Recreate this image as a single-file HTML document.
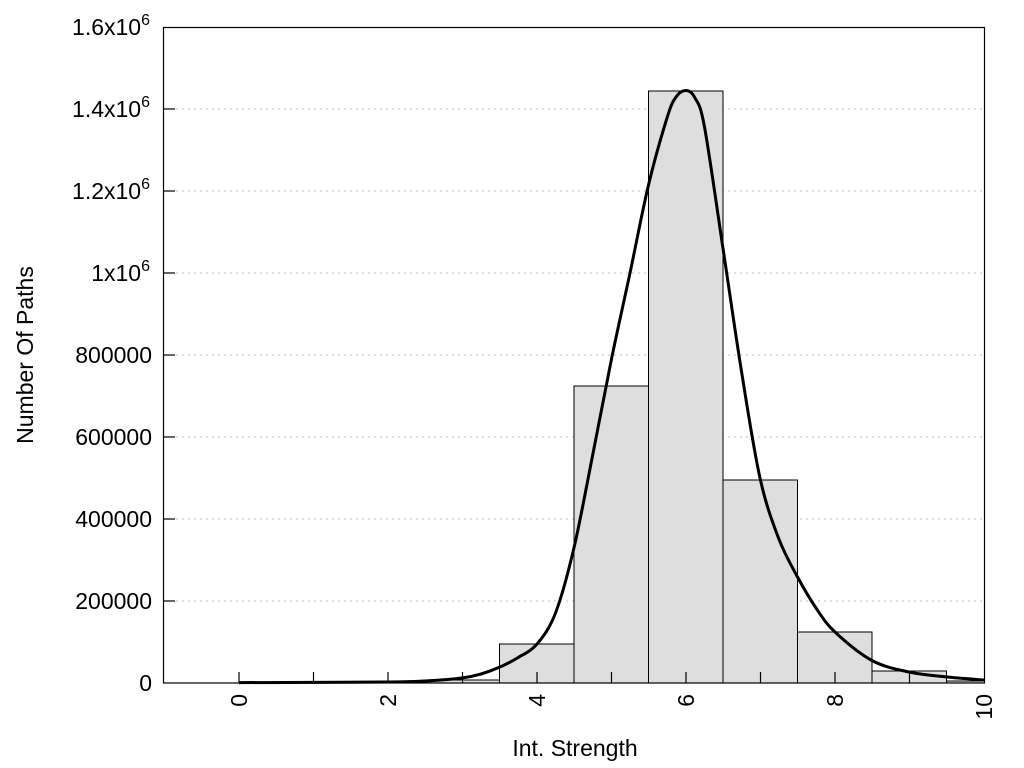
<!DOCTYPE html><html><head><style>body{margin:0;background:#fff}svg{display:block;font-family:"Liberation Sans",sans-serif}</style></head><body>
<svg width="1024" height="768" viewBox="0 0 1024 768">
<g stroke="#bbb" stroke-dasharray="2,4" stroke-width="1">
<line x1="164" x2="984" y1="601" y2="601"/><line x1="164" x2="984" y1="519" y2="519"/><line x1="164" x2="984" y1="437" y2="437"/><line x1="164" x2="984" y1="355" y2="355"/><line x1="164" x2="984" y1="273" y2="273"/><line x1="164" x2="984" y1="191" y2="191"/><line x1="164" x2="984" y1="109" y2="109"/>
</g>
<g fill="#dedede" stroke="#000" stroke-width="1">
<rect x="239" y="682" width="37" height="1"/><rect x="276" y="682" width="74.5" height="1"/><rect x="350.5" y="682" width="74.5" height="1"/>
<rect x="425" y="680" width="74.5" height="3"/><rect x="499.5" y="644" width="74.5" height="39"/><rect x="574" y="386" width="74.5" height="297"/><rect x="648.5" y="91" width="74.5" height="592"/><rect x="723" y="480" width="74.5" height="203"/><rect x="797.5" y="632" width="74.5" height="51"/><rect x="872" y="671" width="74.5" height="12"/><rect x="946.5" y="681" width="38" height="2"/>
</g>
<g stroke="#000" stroke-width="1.2">
<line x1="239" x2="239" y1="683" y2="672"/><line x1="313.5" x2="313.5" y1="683" y2="672"/><line x1="388" x2="388" y1="683" y2="672"/><line x1="462.5" x2="462.5" y1="683" y2="672"/><line x1="537" x2="537" y1="683" y2="672"/><line x1="611.5" x2="611.5" y1="683" y2="672"/><line x1="686" x2="686" y1="683" y2="672"/><line x1="760.5" x2="760.5" y1="683" y2="672"/><line x1="835" x2="835" y1="683" y2="672"/><line x1="909.5" x2="909.5" y1="683" y2="672"/>
<line x1="164" x2="175" y1="601" y2="601"/><line x1="164" x2="175" y1="519" y2="519"/><line x1="164" x2="175" y1="437" y2="437"/><line x1="164" x2="175" y1="355" y2="355"/><line x1="164" x2="175" y1="273" y2="273"/><line x1="164" x2="175" y1="191" y2="191"/><line x1="164" x2="175" y1="109" y2="109"/>
</g>
<path id="curve" fill="none" stroke="#000" stroke-width="3" stroke-linejoin="round" d="M239,682.6 L984,680"/>
<rect x="163.5" y="27.5" width="821" height="655.5" fill="none" stroke="#000" stroke-width="1.2"/>
<g font-size="23" text-anchor="end" fill="#000">
<text x="152" y="691">0</text><text x="152" y="609">200000</text><text x="152" y="527">400000</text><text x="152" y="445">600000</text><text x="152" y="363">800000</text>
<text x="150" y="281">1x10<tspan font-size="16" dy="-10">6</tspan></text>
<text x="150" y="199">1.2x10<tspan font-size="16" dy="-10">6</tspan></text>
<text x="150" y="117">1.4x10<tspan font-size="16" dy="-10">6</tspan></text>
<text x="150" y="35">1.6x10<tspan font-size="16" dy="-10">6</tspan></text>
</g>
<g font-size="23" text-anchor="end">
<text transform="translate(247,694) rotate(-90)">0</text><text transform="translate(396,694) rotate(-90)">2</text><text transform="translate(545,694) rotate(-90)">4</text><text transform="translate(694,694) rotate(-90)">6</text><text transform="translate(843,694) rotate(-90)">8</text><text transform="translate(992,694) rotate(-90)">10</text>
</g>
<text x="575" y="756" font-size="23" text-anchor="middle">Int. Strength</text>
<text transform="translate(33,355) rotate(-90)" font-size="23" text-anchor="middle">Number Of Paths</text>
</svg>
<script>
var p=[[239,682.6],[313.5,682.4],[388,682],[425,681],[462,678],[481,674],[499,667.4],[518,657.6],[537,644],[555.5,613],[574,547.7],[593,453.4],[611.5,359],[630,273],[648.5,185],[667,118],[676,97],[686,90.5],[695,98],[704.5,127],[723,248.4],[741.5,371.4],[760,478],[778.5,538],[797,576],[816,608],[835,632],[872,660.5],[909,672],[946,676.9],[984,680]];
var d="M"+p[0][0]+","+p[0][1];
for(var i=0;i<p.length-1;i++){var a=p[i-1]||p[i],b=p[i],c=p[i+1],e=p[i+2]||c;
d+=" C"+(b[0]+(c[0]-a[0])/6)+","+(b[1]+(c[1]-a[1])/6)+" "+(c[0]-(e[0]-b[0])/6)+","+(c[1]-(e[1]-b[1])/6)+" "+c[0]+","+c[1];}
document.getElementById("curve").setAttribute("d",d);
</script>
</body></html>
